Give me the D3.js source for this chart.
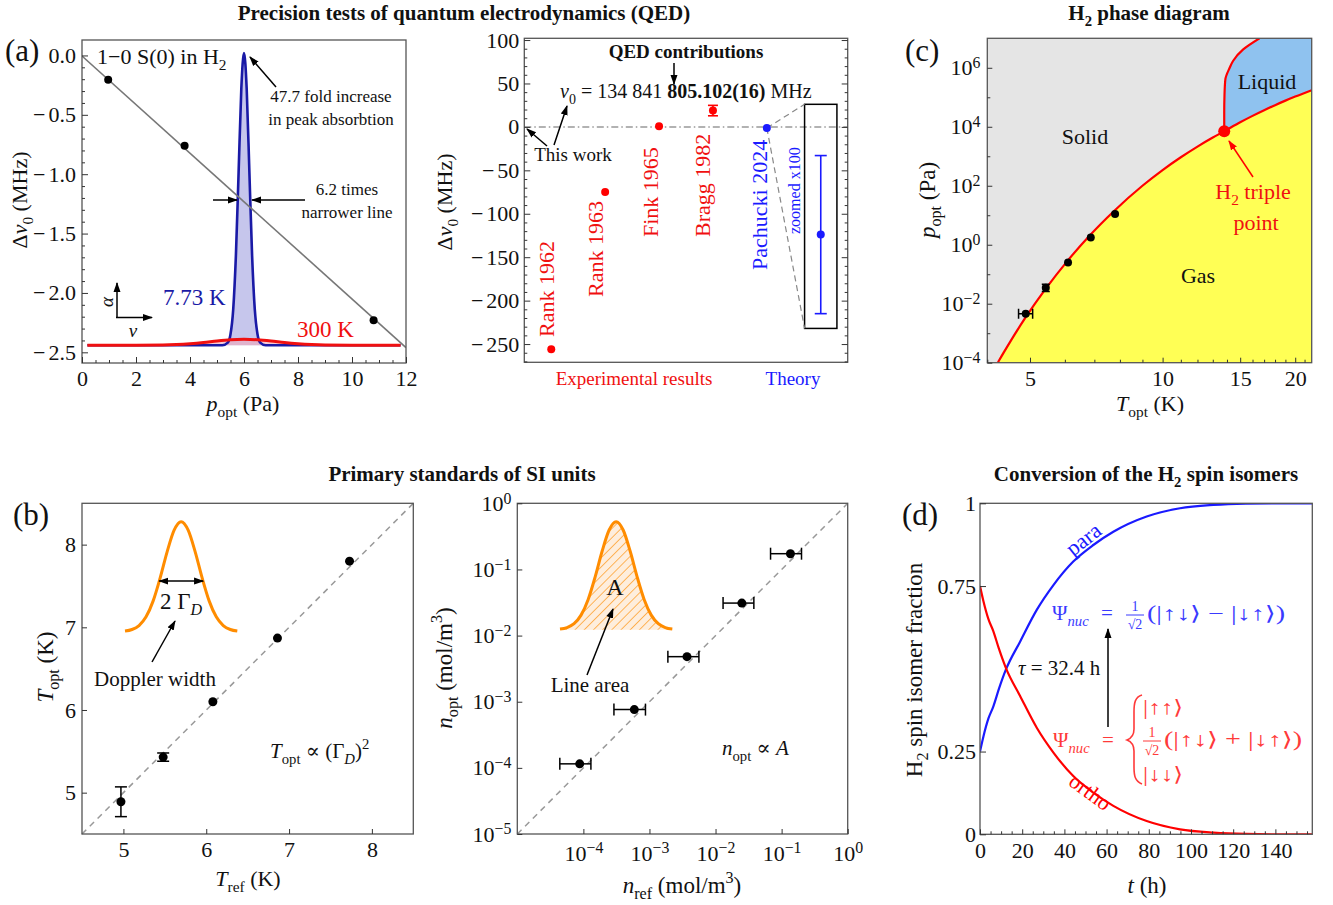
<!DOCTYPE html>
<html>
<head>
<meta charset="utf-8">
<script src="https://cdn.jsdelivr.net/npm/d3@7"></script>
<style>
  body { margin: 0; background: #fff; }
</style>
</head>
<body>
<script>
// ---------- data ----------
// (a) pressure shift of the 1-0 S(0) line
const shiftP = [0.97, 3.8, 10.8];
const shiftNu = [-0.205, -0.76, -2.23];
const fitP = [0, 12];
const fitNu = [-0.005, -2.46];
// schematic line profiles (drawn in the same axes)
const coldX = [0.2, 5.2, 5.4, 5.5, 5.6, 5.7, 5.8, 5.9, 6.0, 6.1, 6.2, 6.3, 6.4, 6.5, 6.6, 6.8, 11.8];
const coldY = [-2.44, -2.44, -2.418, -2.348, -2.14, -1.686, -0.986, -0.283, 0.02, -0.283, -0.986, -1.686, -2.14, -2.348, -2.418, -2.44, -2.44];
const hotX = [0.2, 2, 3, 3.5, 4, 4.5, 5, 5.5, 6, 6.5, 7, 7.5, 8, 8.5, 9, 10, 11.8];
const hotY = [-2.44, -2.44, -2.438, -2.434, -2.427, -2.417, -2.404, -2.394, -2.39, -2.394, -2.404, -2.417, -2.427, -2.434, -2.438, -2.44, -2.44];
const profileBase = -2.44;
const shiftTicks = [-2.5, -2.0, -1.5, -1.0, -0.5, 0.0];

// (a) QED comparison
const qedNames = ['Rank 1962', 'Rank 1963', 'Fink 1965', 'Bragg 1982', 'Pachucki 2024'];
const qedPos = [1, 2, 3, 4, 5];
const qedShift = [-256, -75, 0.7, 18.8, -1.24];
const qedErr = [0, 0, 0, 6, 0.91];
const qedTheory = [false, false, false, false, true];
const zoomFactor = 100;
const insetPos = 6;
const insetBoxX = [5.7, 6.3];
const insetBoxY = [-232, 26];

// (b) temperature and density
const tRef = [4.97, 5.48, 6.08, 6.86, 7.73];
const tOpt = [4.89, 5.43, 6.10, 6.87, 7.80];
const tOptErr = [0.18, 0.05, 0.02, 0.02, 0.02];
const nRef = [8.8e-5, 5.9e-4, 3.7e-3, 0.025, 0.136];
const nRefLo = [4.4e-5, 2.9e-4, 1.9e-3, 0.013, 0.068];
const nRefHi = [1.3e-4, 8.7e-4, 5.6e-3, 0.038, 0.2];
const nOpt = [1.15e-4, 7.6e-4, 4.8e-3, 0.031, 0.173];
// schematic Gaussian used in the insets
const bellX = [-3.2, -2.8, -2.4, -2.0, -1.6, -1.2, -0.8, -0.4, 0, 0.4, 0.8, 1.2, 1.6, 2.0, 2.4, 2.8, 3.2];
const bellY = [0.006, 0.02, 0.056, 0.135, 0.278, 0.487, 0.726, 0.923, 1, 0.923, 0.726, 0.487, 0.278, 0.135, 0.056, 0.02, 0.006];

// (c) phase diagram
const pOpt = [4.6e-3, 0.035, 0.25, 1.77, 11];
const pOptLo = [4.6e-3, 0.026, 0.25, 1.77, 11];
const pOptHi = [4.6e-3, 0.046, 0.25, 1.77, 11];
const sublT = [4.23, 4.5, 4.89, 5.43, 6.09, 6.84, 7.76, 9.0, 10.0, 11.0, 12.0, 13.0, 13.8];
const sublP = [1.04e-4, 4.9e-4, 3.5e-3, 0.0325, 0.29, 2.1, 14, 100, 340, 925, 2130, 4310, 7040];
const vapT = [13.8, 15, 16, 17, 18, 19, 20, 21.8];
const vapP = [7040, 1.42e4, 2.34e4, 3.65e4, 5.41e4, 7.7e4, 1.056e5, 1.74e5];
const meltT = [13.8, 13.8, 13.82, 13.88, 14.2, 14.45, 15.24, 16.6];
const meltP = [7040, 3e4, 1.2e5, 4e5, 1e6, 1.7e6, 4.2e6, 1e7];
const tripleT = 13.8, tripleP = 7040;

// (d) ortho-para conversion
const convT = [0, 1.6, 4, 6.3, 9, 12.3, 19, 26.9, 34.8, 44.2, 53.7, 63.2, 79, 94.8, 110.6, 126, 142, 157.5];
const paraF = [0.25, 0.295, 0.35, 0.386, 0.44, 0.498, 0.582, 0.678, 0.753, 0.824, 0.874, 0.914, 0.96, 0.985, 0.995, 0.999, 1.0, 1.0];
const orthoF = [0.75, 0.705, 0.65, 0.614, 0.56, 0.502, 0.418, 0.322, 0.247, 0.176, 0.126, 0.086, 0.04, 0.015, 0.005, 0.001, 0, 0];

// ---------- helpers ----------
const TICK_FS = 22, LABEL_FS = 23;
const svg = d3.select('body').append('svg')
    .attr('width', 1333).attr('height', 905)
    .attr('font-family', 'Liberation Serif, DejaVu Serif, serif');
const defs = svg.append('defs');

function marker(id, color) {
    defs.append('marker').attr('id', id)
        .attr('viewBox', '0 0 10 10').attr('refX', 9).attr('refY', 5)
        .attr('markerWidth', 10).attr('markerHeight', 10)
        .attr('markerUnits', 'userSpaceOnUse').attr('orient', 'auto-start-reverse')
      .append('path').attr('d', 'M0,1.5 L10,5 L0,8.5 Z').attr('fill', color);
}
marker('arr', '#000');
marker('arrR', '#f00');

const hatch = defs.append('pattern').attr('id', 'hatch')
    .attr('patternUnits', 'userSpaceOnUse').attr('width', 6.5).attr('height', 6.5)
    .attr('patternTransform', 'rotate(45)');
hatch.append('rect').attr('width', 6.5).attr('height', 6.5).attr('fill', '#feeedd');
hatch.append('line').attr('x1', 0).attr('y1', 0).attr('x2', 0).attr('y2', 6.5)
    .attr('stroke', '#ff8c00').attr('stroke-width', 1.2);

function rich(x, y, parts, o = {}) {
    const fs = o.size || 21;
    const t = svg.append('text').attr('x', x).attr('y', y).attr('font-size', fs)
        .attr('text-anchor', o.anchor || 'start').attr('fill', o.color || '#111');
    if (o.rotate) t.attr('transform', `rotate(${o.rotate},${x},${y})`);
    if (o.weight) t.attr('font-weight', o.weight);
    if (o.len) t.attr('textLength', o.len).attr('lengthAdjust', 'spacingAndGlyphs');
    let level = 0;
    parts.forEach(p => {
        if (typeof p === 'string') p = {t: p};
        const lv = p.sub ? 0.28 : p.sup ? -0.42 : 0;
        const ts = t.append('tspan').text(p.t).attr('dy', ((lv - level) * fs).toFixed(1));
        level = lv;
        if (p.sub || p.sup) ts.attr('font-size', (fs * 0.7).toFixed(1));
        if (p.i) ts.attr('font-style', 'italic');
        if (p.b) ts.attr('font-weight', 'bold');
    });
    return t;
}

function clipGroup(id, xs, ys) {
    const [x0, x1] = xs.range(), [y1, y0] = ys.range();
    defs.append('clipPath').attr('id', id).append('rect')
        .attr('x', x0).attr('y', y0).attr('width', x1 - x0).attr('height', y1 - y0);
    return svg.append('g').attr('clip-path', `url(#${id})`);
}

function frame(xs, ys) {
    const [x0, x1] = xs.range(), [y1, y0] = ys.range();
    svg.append('rect').attr('x', x0).attr('y', y0).attr('width', x1 - x0).attr('height', y1 - y0)
        .attr('fill', 'none').attr('stroke', '#555').attr('stroke-width', 1.3);
}

function ax(kind, scale, at, values, size, fmt, pad) {
    const a = kind(scale).tickValues(values).tickSizeInner(-size).tickSizeOuter(0)
        .tickPadding(pad || 8).tickFormat(fmt || (() => ''));
    const horiz = kind === d3.axisBottom || kind === d3.axisTop;
    const g = svg.append('g').attr('transform', horiz ? `translate(0,${at})` : `translate(${at},0)`)
        .call(a).attr('font-family', null).attr('font-size', TICK_FS).attr('color', '#333');
    g.select('.domain').remove();
    g.selectAll('.tick text').attr('fill', '#111');
    return g;
}

// left-axis labels for signed values: the minus is set apart as its own glyph
function signedLeft(g) {
    g.selectAll('.tick').each(function(d) {
        if (d >= 0) return;
        const txt = d3.select(this).select('text');
        const w = txt.node().getComputedTextLength();
        d3.select(this).append('text')
            .attr('x', +txt.attr('x') - w - 3).attr('dy', txt.attr('dy'))
            .attr('text-anchor', 'end').attr('fill', '#111').text('\u2212');
    });
}

function powLabels(g) {
    g.selectAll('.tick text').each(function(d) {
        const e = Math.round(Math.log10(d));
        const t = d3.select(this).text('10');
        t.append('tspan').attr('dy', '-0.45em').attr('font-size', '0.72em')
            .text(e < 0 ? '\u2212' + (-e) : String(e));
    });
}

function arrow(x1, y1, x2, y2, color, both) {
    const l = svg.append('line').attr('x1', x1).attr('y1', y1).attr('x2', x2).attr('y2', y2)
        .attr('stroke', color || '#000').attr('stroke-width', 1.5)
        .attr('marker-end', `url(#${color === '#f00' ? 'arrR' : 'arr'})`);
    if (both) l.attr('marker-start', 'url(#arr)');
}

const range = (a, b, s) => d3.range(a, b + s / 2, s);

// ---------- titles ----------
rich(464, 20, ['Precision tests of quantum electrodynamics (QED)'], {anchor: 'middle', weight: 'bold', size: 21});
rich(1149, 20, ['H', {t: '2', sub: true}, ' phase diagram'], {anchor: 'middle', weight: 'bold', size: 21});
rich(462, 481, ['Primary standards of SI units'], {anchor: 'middle', weight: 'bold', size: 21});
rich(1146, 481, ['Conversion of the H', {t: '2', sub: true}, ' spin isomers'], {anchor: 'middle', weight: 'bold', size: 21});
rich(5, 61, ['(a)'], {size: 31});
rich(905, 61, ['(c)'], {size: 31});
rich(13, 525, ['(b)'], {size: 31});
rich(902, 525, ['(d)'], {size: 31});

// ---------- (a) left: pressure shift ----------
{
    const x = d3.scaleLinear().domain([0, 12]).range([82, 406]);
    const y = d3.scaleLinear().domain([-2.59, 0.13]).range([363, 40]);
    const g = clipGroup('clipA', x, y);
    const cold = coldX.map((v, i) => [v, coldY[i]]);
    const hot = hotX.map((v, i) => [v, hotY[i]]);
    const area = d3.area().x(d => x(d[0])).y0(y(profileBase)).y1(d => y(d[1])).curve(d3.curveMonotoneX);
    const line = d3.line().x(d => x(d[0])).y(d => y(d[1])).curve(d3.curveMonotoneX);
    g.append('path').attr('d', area(cold)).attr('fill', '#c6c6ec');
    g.append('path').attr('d', area(hot)).attr('fill', '#f2a6b8').attr('opacity', 0.6);
    g.append('path').attr('d', line(cold)).attr('fill', 'none').attr('stroke', '#1a1aa6').attr('stroke-width', 2.6);
    g.append('path').attr('d', line(hot)).attr('fill', 'none').attr('stroke', '#f01010').attr('stroke-width', 3);
    g.append('path').attr('d', d3.line()(fitP.map((v, i) => [x(v), y(fitNu[i])])))
        .attr('stroke', '#777').attr('stroke-width', 1.6).attr('fill', 'none');
    g.selectAll('circle.s').data(shiftP).join('circle')
        .attr('cx', d => x(d)).attr('cy', (d, i) => y(shiftNu[i])).attr('r', 4).attr('fill', '#000');
    frame(x, y);
    ax(d3.axisBottom, x, 363, range(0, 12, 0.5).filter(v => v % 2), 3);
    ax(d3.axisBottom, x, 363, range(0, 12, 2), 6, d3.format('d'), 7);
    const minorY = d3.range(-25, 1).filter(k => k % 5).map(k => k / 10);
    ax(d3.axisLeft, y, 82, minorY, 3);
    signedLeft(ax(d3.axisLeft, y, 82, shiftTicks, 6, d => d3.format('.1f')(Math.abs(d)), 6));
    rich(27, 200, ['\u0394', {t: '\u03bd', i: true}, {t: '0', sub: true}, ' (MHz)'], {anchor: 'middle', rotate: -90, size: 22});
    rich(243, 411, [{t: 'p', i: true}, {t: 'opt', sub: true}, ' (Pa)'], {anchor: 'middle', size: 22});
    rich(97, 64, ['1\u22120 S(0) in H', {t: '2', sub: true}], {size: 22});
    rich(331, 102, ['47.7 fold increase'], {anchor: 'middle', size: 17});
    rich(331, 125, ['in peak absorbtion'], {anchor: 'middle', size: 17});
    arrow(276, 87, 250, 57);
    rich(347, 195, ['6.2 times'], {anchor: 'middle', size: 17});
    rich(347, 218, ['narrower line'], {anchor: 'middle', size: 17});
    arrow(213, 200, 237, 200);
    arrow(305, 200, 252, 200);
    rich(163, 305, ['7.73 K'], {size: 23, color: '#1a1aa6'});
    rich(297, 337, ['300 K'], {size: 23, color: '#f01010'});
    // small alpha / nu axes icon
    arrow(117, 318, 117, 283);
    arrow(116, 317.5, 152, 317.5);
    rich(113, 302, [{t: '\u03b1', i: true}], {anchor: 'middle', rotate: -90, size: 19});
    rich(133, 337, [{t: '\u03bd', i: true}], {anchor: 'middle', size: 19});
}

// ---------- (a) right: QED comparison ----------
{
    const x = d3.scaleLinear().domain([0.5, 6.5]).range([524.3, 847.7]);
    const y = d3.scaleLinear().domain([-271, 102]).range([362.3, 38.3]);
    svg.append('line').attr('x1', x(0.5)).attr('x2', x(6.5)).attr('y1', y(0)).attr('y2', y(0))
        .attr('stroke', '#999').attr('stroke-width', 1.5).attr('stroke-dasharray', '7,3,1.5,3');
    // zoom inset
    svg.append('rect').attr('x', x(insetBoxX[0])).attr('y', y(insetBoxY[1]))
        .attr('width', x(insetBoxX[1]) - x(insetBoxX[0])).attr('height', y(insetBoxY[0]) - y(insetBoxY[1]))
        .attr('fill', 'none').attr('stroke', '#000').attr('stroke-width', 1.5);
    insetBoxY.forEach(v => {
        svg.append('line').attr('x1', x(qedPos[4])).attr('y1', y(qedShift[4]))
            .attr('x2', x(insetBoxX[0])).attr('y2', y(v))
            .attr('stroke', '#888').attr('stroke-width', 1.2).attr('stroke-dasharray', '6,4');
    });
    const zv = qedShift[4] * zoomFactor, ze = qedErr[4] * zoomFactor;
    svg.append('line').attr('x1', x(insetPos)).attr('x2', x(insetPos)).attr('y1', y(zv - ze)).attr('y2', y(zv + ze))
        .attr('stroke', '#1a1aff').attr('stroke-width', 1.6);
    [zv - ze, zv + ze].forEach(v => svg.append('line').attr('x1', x(insetPos) - 6).attr('x2', x(insetPos) + 6)
        .attr('y1', y(v)).attr('y2', y(v)).attr('stroke', '#1a1aff').attr('stroke-width', 1.6));
    svg.append('circle').attr('cx', x(insetPos)).attr('cy', y(zv)).attr('r', 4).attr('fill', '#1a1aff');
    // measurements
    qedPos.forEach((p, i) => {
        const c = qedTheory[i] ? '#1a1aff' : '#f00';
        if (qedErr[i] && !qedTheory[i]) {
            const lo = qedShift[i] - qedErr[i], hi = qedShift[i] + qedErr[i];
            svg.append('line').attr('x1', x(p)).attr('x2', x(p)).attr('y1', y(lo)).attr('y2', y(hi))
                .attr('stroke', c).attr('stroke-width', 1.6);
            [lo, hi].forEach(v => svg.append('line').attr('x1', x(p) - 5).attr('x2', x(p) + 5)
                .attr('y1', y(v)).attr('y2', y(v)).attr('stroke', c).attr('stroke-width', 1.6));
        }
        svg.append('circle').attr('cx', x(p)).attr('cy', y(qedShift[i])).attr('r', 4).attr('fill', c);
    });
    frame(x, y);
    const minor = range(-270, 100, 10).filter(v => v % 50);
    ax(d3.axisLeft, y, 524.3, minor, 3);
    signedLeft(ax(d3.axisLeft, y, 524.3, range(-250, 100, 50), 6, d => String(Math.abs(d)), 5));
    ax(d3.axisRight, y, 847.7, minor, 3);
    ax(d3.axisRight, y, 847.7, range(-250, 100, 50), 6);
    rich(452, 202, ['\u0394', {t: '\u03bd', i: true}, {t: '0', sub: true}, ' (MHz)'], {anchor: 'middle', rotate: -90, size: 22});
    // rotated source labels
    const lab = [[547, 337], [596, 297], [651, 237], [703, 237], [760, 270]];
    qedNames.forEach((n, i) => {
        rich(lab[i][0] + 7, lab[i][1], [n], {rotate: -90, size: 22, color: qedTheory[i] ? '#1a1aff' : '#f01010'});
    });
    rich(800, 234, ['zoomed x100'], {rotate: -90, size: 16, color: '#1a1aff'});
    rich(686, 58, ['QED contributions'], {anchor: 'middle', weight: 'bold', size: 19});
    arrow(674, 63, 674, 84);
    rich(560, 98, [{t: '\u03bd', i: true}, {t: '0', sub: true}, ' = 134 841 ', {t: '805.102(16)', b: true}, ' MHz'], {size: 20});
    rich(573, 161, ['This work'], {anchor: 'middle', size: 19});
    arrow(547, 146, 527, 129);
    arrow(554, 145, 567, 106);
    rich(634, 385, ['Experimental results'], {anchor: 'middle', size: 19, color: '#f01010'});
    rich(793, 385, ['Theory'], {anchor: 'middle', size: 19, color: '#1a1aff'});
}

// ---------- (c) phase diagram ----------
{
    const x = d3.scaleLog().domain([4, 21.8]).range([987.3, 1311.7]);
    const y = d3.scaleLog().domain([1e-4, 1e7]).range([362.7, 38.3]);
    const g = clipGroup('clipC', x, y);
    g.append('rect').attr('x', 987.3).attr('y', 38.3).attr('width', 324.4).attr('height', 324.4).attr('fill', '#e5e5e5');
    const melt = meltT.map((v, i) => [v, meltP[i]]);
    const subl = sublT.map((v, i) => [v, sublP[i]]).concat(vapT.slice(1).map((v, i) => [v, vapP[i + 1]]));
    const below = [[4, 1e-6]].concat(subl);
    g.append('path').attr('fill', '#8fc2ef')
        .attr('d', d3.area().y(d => y(d[1])).x0(d => x(d[0])).x1(1320).curve(d3.curveMonotoneY)(melt));
    g.append('path').attr('fill', '#ffff55')
        .attr('d', d3.area().x(d => x(d[0])).y0(370).y1(d => y(d[1])).curve(d3.curveMonotoneX)(below));
    g.append('path').attr('fill', 'none').attr('stroke', '#f00').attr('stroke-width', 2.2)
        .attr('d', d3.line().x(d => x(d[0])).y(d => y(d[1])).curve(d3.curveMonotoneX)(subl));
    g.append('path').attr('fill', 'none').attr('stroke', '#f00').attr('stroke-width', 2.2)
        .attr('d', d3.line().x(d => x(d[0])).y(d => y(d[1])).curve(d3.curveMonotoneY)(melt));
    // measured points
    tOpt.forEach((t, i) => {
        const cx = x(t), cy = y(pOpt[i]);
        const xl = x(t - tOptErr[i]), xh = x(t + tOptErr[i]);
        if (xh - xl > 4) {
            g.append('line').attr('x1', xl).attr('x2', xh).attr('y1', cy).attr('y2', cy).attr('stroke', '#000').attr('stroke-width', 1.5);
            [xl, xh].forEach(v => g.append('line').attr('x1', v).attr('x2', v).attr('y1', cy - 5).attr('y2', cy + 5).attr('stroke', '#000').attr('stroke-width', 1.5));
        }
        if (pOptHi[i] > pOptLo[i]) {
            const yl = y(pOptLo[i]), yh = y(pOptHi[i]);
            g.append('line').attr('x1', cx).attr('x2', cx).attr('y1', yl).attr('y2', yh).attr('stroke', '#000').attr('stroke-width', 1.5);
            [yl, yh].forEach(v => g.append('line').attr('x1', cx - 4).attr('x2', cx + 4).attr('y1', v).attr('y2', v).attr('stroke', '#000').attr('stroke-width', 1.5));
        }
        g.append('circle').attr('cx', cx).attr('cy', cy).attr('r', 4).attr('fill', '#000');
    });
    g.append('circle').attr('cx', x(tripleT)).attr('cy', y(tripleP)).attr('r', 6).attr('fill', '#f00');
    frame(x, y);
    ax(d3.axisBottom, x, 362.7, d3.range(4, 22).filter(v => v % 5), 3);
    ax(d3.axisBottom, x, 362.7, [5, 10, 15, 20], 5, d3.format('d'), 8);
    ax(d3.axisLeft, y, 987.3, [1e-3, 1e-1, 1e1, 1e3, 1e5], 3);
    powLabels(ax(d3.axisLeft, y, 987.3, [1e-4, 1e-2, 1, 1e2, 1e4, 1e6], 5, d => d, 7));
    rich(935, 200, [{t: 'p', i: true}, {t: 'opt', sub: true}, ' (Pa)'], {anchor: 'middle', rotate: -90, size: LABEL_FS});
    rich(1150, 411, [{t: 'T', i: true}, {t: 'opt', sub: true}, ' (K)'], {anchor: 'middle', size: 22});
    rich(1085, 144, ['Solid'], {anchor: 'middle', size: 22});
    rich(1267, 89, ['Liquid'], {anchor: 'middle', size: 22});
    rich(1198, 283, ['Gas'], {anchor: 'middle', size: 22});
    rich(1253, 199, ['H', {t: '2', sub: true}, ' triple'], {anchor: 'middle', size: 22, color: '#f01010'});
    rich(1256, 230, ['point'], {anchor: 'middle', size: 22, color: '#f01010'});
    arrow(1253, 177, 1229, 141, '#f00');
}

// ---------- (b) left: temperature ----------
{
    const x = d3.scaleLinear().domain([4.5, 8.5]).range([82, 413.3]);
    const y = d3.scaleLinear().domain([4.5, 8.5]).range([834, 503.3]);
    svg.append('line').attr('x1', x(4.5)).attr('y1', y(4.5)).attr('x2', x(8.5)).attr('y2', y(8.5))
        .attr('stroke', '#999').attr('stroke-width', 1.5).attr('stroke-dasharray', '6,5');
    tRef.forEach((t, i) => {
        const cx = x(t), yl = y(tOpt[i] - tOptErr[i]), yh = y(tOpt[i] + tOptErr[i]);
        if (yl - yh > 6) {
            svg.append('line').attr('x1', cx).attr('x2', cx).attr('y1', yl).attr('y2', yh).attr('stroke', '#000').attr('stroke-width', 1.5);
            [yl, yh].forEach(v => svg.append('line').attr('x1', cx - 6).attr('x2', cx + 6).attr('y1', v).attr('y2', v).attr('stroke', '#000').attr('stroke-width', 1.5));
        }
        svg.append('circle').attr('cx', cx).attr('cy', y(tOpt[i])).attr('r', 4.5).attr('fill', '#000');
    });
    frame(x, y);
    ax(d3.axisBottom, x, 834, [5, 6, 7, 8], 5, d3.format('d'), 7);
    ax(d3.axisLeft, y, 82, [5, 6, 7, 8], 5, d3.format('d'), 6);
    rich(53, 667, [{t: 'T', i: true}, {t: 'opt', sub: true}, ' (K)'], {anchor: 'middle', rotate: -90, size: LABEL_FS});
    rich(248, 886, [{t: 'T', i: true}, {t: 'ref', sub: true}, ' (K)'], {anchor: 'middle', size: 22});
    // Doppler inset
    const bx = d3.scaleLinear().domain([-3.2, 3.2]).range([125, 237.3]);
    const by = d3.scaleLinear().domain([0, 1]).range([631.7, 521.7]);
    svg.append('path').attr('fill', 'none').attr('stroke', '#ff8c00').attr('stroke-width', 3)
        .attr('d', d3.line().x(d => bx(d)).y((d, i) => by(bellY[i])).curve(d3.curveMonotoneX)(bellX));
    arrow(bx(-1.25), by(0.46), bx(1.25), by(0.46), '#000', true);
    rich(181, 609, ['2 \u0393', {t: 'D', sub: true, i: true}], {anchor: 'middle', size: 23});
    arrow(152, 662, 175, 621);
    rich(155, 686, ['Doppler width'], {anchor: 'middle', size: 21});
    rich(270, 758, [{t: 'T', i: true}, {t: 'opt', sub: true}, ' \u221d (\u0393', {t: 'D', sub: true, i: true}, ')', {t: '2', sup: true}], {size: 21});
}

// ---------- (b) right: density ----------
{
    const x = d3.scaleLog().domain([1e-5, 1]).range([517.3, 847.7]);
    const y = d3.scaleLog().domain([1e-5, 1]).range([834, 503.3]);
    svg.append('line').attr('x1', x(1e-5)).attr('y1', y(1e-5)).attr('x2', x(1)).attr('y2', y(1))
        .attr('stroke', '#999').attr('stroke-width', 1.5).attr('stroke-dasharray', '6,5');
    // line-area inset
    const bx = d3.scaleLinear().domain([-3.2, 3.2]).range([560, 672.3]);
    const by = d3.scaleLinear().domain([0, 1]).range([629.7, 521.7]);
    svg.append('path').attr('fill', 'url(#hatch)')
        .attr('d', d3.area().x(d => bx(d)).y0(by(0)).y1((d, i) => by(bellY[i])).curve(d3.curveMonotoneX)(bellX));
    svg.append('path').attr('fill', 'none').attr('stroke', '#ff8c00').attr('stroke-width', 3)
        .attr('d', d3.line().x(d => bx(d)).y((d, i) => by(bellY[i])).curve(d3.curveMonotoneX)(bellX));
    rich(615, 595, ['A'], {anchor: 'middle', size: 24});
    arrow(587, 675, 613, 609);
    rich(590, 692, ['Line area'], {anchor: 'middle', size: 21});
    nRef.forEach((n, i) => {
        const cy = y(nOpt[i]), xl = x(nRefLo[i]), xh = x(nRefHi[i]);
        svg.append('line').attr('x1', xl).attr('x2', xh).attr('y1', cy).attr('y2', cy).attr('stroke', '#000').attr('stroke-width', 1.5);
        [xl, xh].forEach(v => svg.append('line').attr('x1', v).attr('x2', v).attr('y1', cy - 6).attr('y2', cy + 6).attr('stroke', '#000').attr('stroke-width', 1.5));
        svg.append('circle').attr('cx', x(n)).attr('cy', cy).attr('r', 4.5).attr('fill', '#000');
    });
    frame(x, y);
    powLabels(ax(d3.axisBottom, x, 834, [1e-4, 1e-3, 1e-2, 1e-1, 1], 5, d => d, 11));
    powLabels(ax(d3.axisLeft, y, 517.3, [1e-5, 1e-4, 1e-3, 1e-2, 1e-1, 1], 5, d => d, 6));
    rich(452, 668, [{t: 'n', i: true}, {t: 'opt', sub: true}, ' (mol/m', {t: '3', sup: true}, ')'], {anchor: 'middle', rotate: -90, size: LABEL_FS});
    rich(682, 893, [{t: 'n', i: true}, {t: 'ref', sub: true}, ' (mol/m', {t: '3', sup: true}, ')'], {anchor: 'middle', size: LABEL_FS});
    rich(722, 755, [{t: 'n', i: true}, {t: 'opt', sub: true}, ' \u221d ', {t: 'A', i: true}], {size: 21});
}

// ---------- (d) ortho-para conversion ----------
{
    const x = d3.scaleLinear().domain([0, 157.5]).range([980, 1312.3]);
    const y = d3.scaleLinear().domain([0, 1]).range([834.3, 503.3]);
    const g = clipGroup('clipD', x, y);
    const line = d3.line().x((d, i) => x(convT[i])).y(d => y(d)).curve(d3.curveMonotoneX);
    g.append('path').attr('d', line(paraF)).attr('fill', 'none').attr('stroke', '#1a1aff').attr('stroke-width', 2.2);
    g.append('path').attr('d', line(orthoF)).attr('fill', 'none').attr('stroke', '#f00').attr('stroke-width', 2.2);
    frame(x, y);
    ax(d3.axisBottom, x, 834.3, range(5, 155, 5).filter(v => v % 20), 3);
    ax(d3.axisBottom, x, 834.3, range(0, 140, 20), 5, d3.format('d'), 8);
    ax(d3.axisLeft, y, 980, [0, 0.25, 0.75, 1], 6, d => (d === 0 || d === 1) ? String(d) : d.toFixed(2), 4);
    rich(922, 670, ['H', {t: '2', sub: true}, ' spin isomer fraction'], {anchor: 'middle', rotate: -90, size: LABEL_FS});
    rich(1147, 893, [{t: 't', i: true}, ' (h)'], {anchor: 'middle', size: LABEL_FS});
    rich(1088, 545, ['para'], {anchor: 'middle', rotate: -38, size: 22, color: '#1a1aff'});
    rich(1086, 798, ['ortho'], {anchor: 'middle', rotate: 36, size: 22, color: '#f00'});
    rich(1018, 675, [{t: '\u03c4', i: true}, ' = 32.4 h'], {size: 21});
    arrow(1108, 727, 1108, 629);

    const blue = '#3a3aff', red = '#ff3a3a';
    function frac(x0, yb, color) {
        rich(x0 + 10, yb - 9, ['1'], {anchor: 'middle', size: 14, color: color});
        svg.append('line').attr('x1', x0 + 1).attr('x2', x0 + 19).attr('y1', yb - 5).attr('y2', yb - 5).attr('stroke', color).attr('stroke-width', 1);
        rich(x0 + 10, yb + 9, ['\u221a2'], {anchor: 'middle', size: 14, color: color});
    }
    rich(1052, 620, ['\u03a8', {t: 'nuc', sub: true, i: true}], {size: 21, color: blue});
    rich(1101, 620, ['='], {size: 21, color: blue});
    frac(1125, 620, blue);
    rich(1147, 620, ['(|\u2191\u2193\u27e9 \u2212 |\u2193\u2191\u27e9)'], {size: 20, color: blue, len: 138});

    rich(1053, 747, ['\u03a8', {t: 'nuc', sub: true, i: true}], {size: 21, color: red});
    rich(1102, 747, ['='], {size: 21, color: red});
    svg.append('path').attr('fill', 'none').attr('stroke', red).attr('stroke-width', 1.6)
        .attr('d', 'M1142,695 C1135,697 1134,703 1134,712 L1134,729 C1134,735 1132,738 1127,740 C1132,742 1134,745 1134,751 L1134,767 C1134,776 1135,781 1142,784');
    rich(1143, 714, ['|\u2191\u2191\u27e9'], {size: 20, color: red, len: 40});
    frac(1142, 746, red);
    rich(1164, 746, ['(|\u2191\u2193\u27e9 + |\u2193\u2191\u27e9)'], {size: 20, color: red, len: 138});
    rich(1143, 781, ['|\u2193\u2193\u27e9'], {size: 20, color: red, len: 40});
}
</script>
</body>
</html>
